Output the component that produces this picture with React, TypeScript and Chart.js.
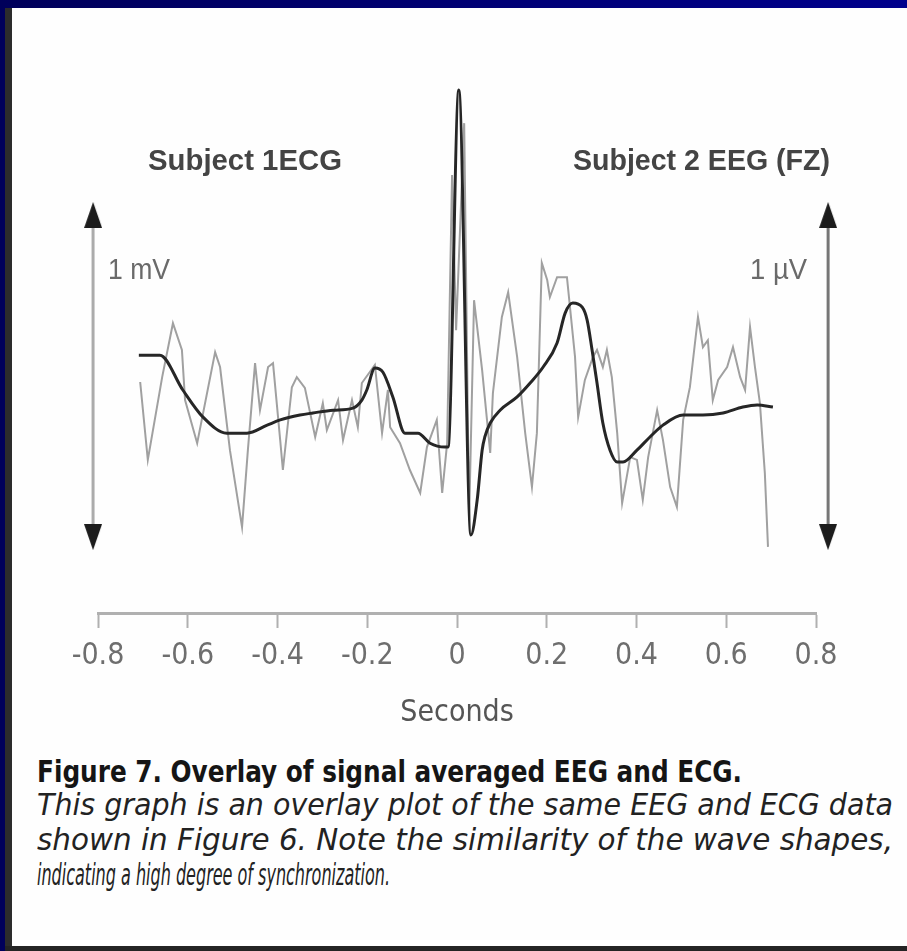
import React, { useEffect, useLayoutEffect, useRef } from "react";
import { Chart, registerables } from "chart.js";

Chart.register(...registerables);

// ---- Data (time in seconds, amplitude in scale-bar units: 1 = length of the 1 mV / 1 µV bar)
const tickValues = [-0.8, -0.6, -0.4, -0.2, 0, 0.2, 0.4, 0.6, 0.8];
const tickLabels = ["-0.8", "-0.6", "-0.4", "-0.2", "0", "0.2", "0.4", "0.6", "0.8"];

// Subject 1 ECG (dark, smooth line with the QRS spike at 0 s)
const ecgTime = [
  -0.709, -0.662, -0.611, -0.566, -0.513, -0.468, -0.423, -0.394, -0.35, -0.321, -0.276, -0.232,
  -0.212, -0.201, -0.183, -0.165, -0.143, -0.116, -0.087, -0.06, -0.027, -0.02, 0.004, 0.031,
  0.045, 0.056, 0.062, 0.074, 0.096, 0.134, 0.163, 0.192, 0.223, 0.241, 0.258, 0.279, 0.29,
  0.301, 0.312, 0.325, 0.341, 0.357, 0.37, 0.401, 0.43, 0.459, 0.504, 0.548, 0.593, 0.637,
  0.669, 0.704,
];
const ecgValue = [
  0.56, 0.56, 0.46, 0.382, 0.336, 0.336, 0.359, 0.374, 0.388, 0.394, 0.402, 0.408,
  0.431, 0.46, 0.523, 0.511, 0.44, 0.336, 0.336, 0.307, 0.296, 0.296, 1.322, 0.043,
  0.144, 0.287, 0.325, 0.365, 0.402, 0.44, 0.48, 0.526, 0.595, 0.681, 0.71, 0.698, 0.661,
  0.575, 0.48, 0.365, 0.287, 0.253, 0.253, 0.287, 0.325, 0.359, 0.388, 0.388, 0.394, 0.411,
  0.417, 0.411,
];

// Subject 2 EEG (FZ) (light grey, noisy line)
const eegTime = [
  -0.706, -0.689, -0.657, -0.633, -0.613, -0.606, -0.579, -0.539, -0.528, -0.506, -0.479, -0.466,
  -0.45, -0.439, -0.421, -0.41, -0.394, -0.388, -0.368, -0.357, -0.339, -0.316, -0.299, -0.29,
  -0.265, -0.254, -0.234, -0.221, -0.212, -0.183, -0.167, -0.154, -0.149, -0.127, -0.105, -0.082,
  -0.067, -0.045, -0.033, -0.022, -0.011, -0.002, 0.016, 0.027, 0.038, 0.056, 0.074, 0.08,
  0.1, 0.114, 0.134, 0.152, 0.167, 0.178, 0.189, 0.201, 0.207, 0.223, 0.245, 0.263,
  0.27, 0.285, 0.303, 0.312, 0.325, 0.334, 0.345, 0.357, 0.368, 0.386, 0.401, 0.414,
  0.426, 0.446, 0.459, 0.475, 0.49, 0.504, 0.519, 0.537, 0.548, 0.559, 0.57, 0.582,
  0.602, 0.615, 0.631, 0.642, 0.653, 0.664, 0.675, 0.686, 0.693,
];
const eegValue = [
  0.483, 0.259, 0.497, 0.652, 0.575, 0.431, 0.307, 0.569, 0.526, 0.287, 0.066, 0.287,
  0.537, 0.402, 0.526, 0.537, 0.316, 0.23, 0.468, 0.497, 0.466, 0.325, 0.422, 0.345,
  0.431, 0.316, 0.431, 0.353, 0.48, 0.532, 0.336, 0.46, 0.353, 0.307, 0.23, 0.164,
  0.296, 0.374, 0.164, 0.307, 1.078, 0.632, 1.227, 0.086, 0.718, 0.517, 0.279, 0.451,
  0.67, 0.741, 0.555, 0.336, 0.181, 0.336, 0.825, 0.776, 0.727, 0.784, 0.784, 0.555,
  0.382, 0.489, 0.555, 0.575, 0.526, 0.575, 0.497, 0.336, 0.135, 0.267, 0.259, 0.144,
  0.267, 0.402, 0.316, 0.181, 0.124, 0.374, 0.468, 0.67, 0.583, 0.603, 0.431, 0.489,
  0.526, 0.583, 0.497, 0.46, 0.641, 0.526, 0.422, 0.221, 0.009,
];

// Scale bars (double-headed arrows): 1 mV on the left, 1 µV on the right
const scaleBarLeftTime = [-0.811, -0.811];
const scaleBarRightTime = [0.827, 0.827];
const scaleBarValue = [0.037, 0.963];

const NARROW = "'DejaVu Sans Condensed', 'Liberation Sans Narrow', 'Liberation Sans', sans-serif";

function makeArrowHead(): HTMLCanvasElement {
  const c = document.createElement("canvas");
  c.width = 18;
  c.height = 26;
  const g = c.getContext("2d")!;
  g.fillStyle = "#1c1c1c";
  g.beginPath();
  g.moveTo(9, 0);
  g.lineTo(18, 26);
  g.lineTo(0, 26);
  g.closePath();
  g.fill();
  return c;
}

type FitProps = {
  text: string;
  left: number;
  baseline: number;
  width: number;
  size: number;
  weight?: string | number;
  italic?: boolean;
  color: string;
  family: string;
};

function FitText({ text, left, baseline, width, size, weight, italic, color, family }: FitProps) {
  const ref = useRef<HTMLSpanElement>(null);
  useLayoutEffect(() => {
    const el = ref.current;
    if (!el) return;
    const fit = () => {
      el.style.transform = "none";
      const w = el.getBoundingClientRect().width;
      if (w > 0) el.style.transform = `scaleX(${width / w})`;
    };
    fit();
    (document as any).fonts?.ready?.then(fit);
  }, [text, width, size]);
  return (
    <span
      ref={ref}
      style={{
        position: "absolute",
        left,
        top: baseline - 0.8465 * size,
        fontSize: size,
        lineHeight: `${size}px`,
        fontFamily: family,
        fontWeight: weight ?? "normal",
        fontStyle: italic ? "italic" : "normal",
        color,
        whiteSpace: "nowrap",
        transformOrigin: "0 0",
      }}
    >
      {text}
    </span>
  );
}

function EegChart() {
  const canvasRef = useRef<HTMLCanvasElement>(null);
  useEffect(() => {
    const canvas = canvasRef.current;
    if (!canvas) return;
    const arrow = makeArrowHead();
    const barDataset = (label: string, times: number[], color: string) => ({
      label,
      data: times.map((t, i) => ({ x: t, y: scaleBarValue[i] })),
      borderColor: color,
      borderWidth: 3,
      pointStyle: arrow,
      pointRotation: [180, 0],
      pointRadius: 16,
      pointHoverRadius: 16,
      pointBorderWidth: 0,
      clip: false,
    });
    const chart = new Chart(canvas, {
      type: "line",
      data: {
        datasets: [
          {
            label: "Subject 1 ECG",
            data: ecgTime.map((t, i) => ({ x: t, y: ecgValue[i] })),
            borderColor: "#262626",
            borderWidth: 3,
            pointRadius: 0,
            cubicInterpolationMode: "monotone",
          },
          {
            label: "Subject 2 EEG (FZ)",
            data: eegTime.map((t, i) => ({ x: t, y: eegValue[i] })),
            borderColor: "#a0a0a0",
            borderWidth: 2,
            pointRadius: 0,
            tension: 0,
          },
          barDataset("1 mV", scaleBarLeftTime, "#ababab"),
          barDataset("1 µV", scaleBarRightTime, "#767676"),
        ],
      },
      options: {
        animation: false,
        responsive: false,
        events: [],
        layout: { padding: { left: 98, right: 91, top: 80, bottom: 0 } },
        plugins: { legend: { display: false }, tooltip: { enabled: false } },
        scales: {
          x: {
            type: "linear",
            min: -0.8,
            max: 0.8,
            afterBuildTicks: (scale: any) => {
              scale.ticks = tickValues.map((v) => ({ value: v }));
            },
            afterFit: (scale: any) => {
              scale.height = 127;
            },
            ticks: {
              autoSkip: false,
              maxRotation: 0,
              padding: 10,
              color: "#6e6e6e",
              font: { family: NARROW, size: 30 },
              callback: (_v: any, i: number) => tickLabels[i],
            },
            grid: {
              drawOnChartArea: false,
              drawTicks: true,
              tickLength: 15,
              tickWidth: 2,
              tickColor: "#b0b0b0",
            },
            border: { display: true, color: "#b0b0b0", width: 3 },
            title: {
              display: true,
              text: "Seconds",
              color: "#555555",
              font: { family: NARROW, size: 30 },
              padding: { top: 0, bottom: 9 },
            },
          },
          y: {
            type: "linear",
            display: false,
            min: -0.181,
            max: 1.351,
          },
        },
      },
    } as any);
    return () => chart.destroy();
  }, []);
  return (
    <canvas
      ref={canvasRef}
      width={907}
      height={740}
      style={{ position: "absolute", left: 0, top: 0, width: 907, height: 740 }}
    />
  );
}

export default function App() {
  return (
    <div
      style={{
        position: "absolute",
        left: 0,
        top: 0,
        width: 907,
        height: 951,
        overflow: "hidden",
        background: "linear-gradient(to right, #00005a, #00008c)",
      }}
    >
      <div style={{ position: "absolute", left: 5, top: 8, width: 7, height: 943, background: "#2c2c2c" }} />
      <div style={{ position: "absolute", left: 5, top: 946, width: 902, height: 5, background: "#242424" }} />
      <div style={{ position: "absolute", left: 12, top: 8, width: 895, height: 938, background: "#fefefe" }} />
      <EegChart />
      <FitText text="Subject 1ECG" left={148} baseline={170} width={194} size={30} weight="bold" color="#444" family="'Liberation Sans', Arial, sans-serif" />
      <FitText text="Subject 2 EEG (FZ)" left={573} baseline={170} width={257} size={30} weight="bold" color="#444" family="'Liberation Sans', Arial, sans-serif" />
      <FitText text="1 mV" left={108} baseline={279} width={62} size={30} color="#6a6a6a" family="'Liberation Sans', Arial, sans-serif" />
      <FitText text="1 µV" left={750} baseline={279} width={57} size={30} color="#6a6a6a" family="'Liberation Sans', Arial, sans-serif" />
      <FitText text="Figure 7. Overlay of signal averaged EEG and ECG." left={37} baseline={782} width={705} size={31} weight="bold" color="#151515" family={NARROW} />
      <FitText text="This graph is an overlay plot of the same EEG and ECG data" left={37} baseline={815} width={856} size={30} italic color="#222" family={NARROW} />
      <FitText text="shown in Figure 6. Note the similarity of the wave shapes," left={37} baseline={850} width={856} size={30} italic color="#222" family={NARROW} />
      <FitText text="indicating a high degree of synchronization." left={37} baseline={885} width={353} size={30} italic color="#222" family={NARROW} />
    </div>
  );
}
